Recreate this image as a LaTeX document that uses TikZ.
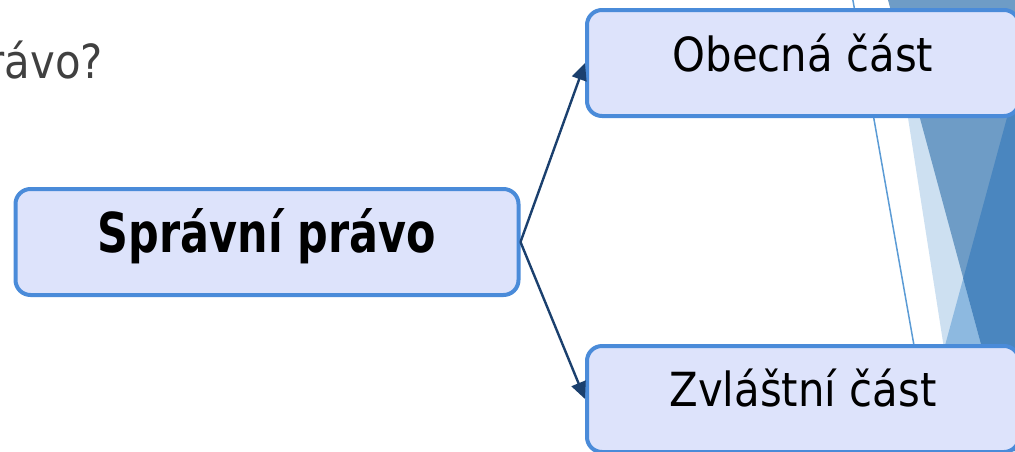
\documentclass[tikz,border=0pt]{standalone}
\usepackage{fontspec}
\setmainfont{DejaVu Sans}[FakeStretch=0.89, BoldFeatures={FakeStretch=0.78}]
\usetikzlibrary{arrows.meta}
\definecolor{boxfill}{HTML}{DDE3FB}
\definecolor{boxline}{HTML}{4A8BD9}
\definecolor{arrowc}{HTML}{1B406E}
\definecolor{facetlight}{HTML}{CDE0F1}
\definecolor{facetmid}{HTML}{6E9CC6}
\definecolor{facetpale}{HTML}{8DB9E0}
\definecolor{facetdark}{HTML}{4A86BF}
\definecolor{facetline}{HTML}{5B9BD5}
\definecolor{titlegray}{HTML}{404040}
\begin{document}
\begin{tikzpicture}[x=1pt,y=-1pt,
  topic/.style={draw=boxline, fill=boxfill, line width=4pt, rounded corners=15pt,
    inner sep=0pt, minimum height=106pt, text height=34pt, text depth=17pt,
    font=\fontsize{47}{56}\selectfont},
  link/.style={draw=arrowc, line width=2.4pt, -{Triangle[length=17pt,width=15pt]}}]
\useasboundingbox (0,0) rectangle (1015,451);
\clip (0,0) rectangle (1015,451);

% facet decoration on the right edge
\fill[facetlight] (889.6,0) -- (1015,0) -- (1015,451) -- (960,451) -- cycle;
\fill[facetmid] (888,0) -- (1015,0) -- (1015,451) -- (1010,451) -- cycle;
\fill[facetpale] (963.2,278.6) -- (916.3,451) -- (1010,451) -- cycle;
\fill[facetdark] (1015,88.2) -- (963.2,278.6) -- (1010,451) -- (1015,451) -- cycle;
\draw[facetline, line width=1.5pt] (852,-5) -- (921,385);

% heading fragment
\node[anchor=base east, inner sep=0pt, text=titlegray,
  font=\fontsize{47}{56}\selectfont] (head) at (103,78) {rávo?};

% topic boxes
\node[topic, minimum width=503pt, text depth=14pt,
  font=\fontsize{55}{66}\selectfont\bfseries] (root) at (267,242) {Správní právo};
\node[topic, minimum width=432pt] (general) at (803,63) {Obecná část};
\node[topic, minimum width=432pt, text depth=20pt] (special) at (803,399) {Zvláštní část};

% connectors
\draw[link] (root.east) -- (general.west);
\draw[link] (root.east) -- (special.west);
\end{tikzpicture}
\end{document}
